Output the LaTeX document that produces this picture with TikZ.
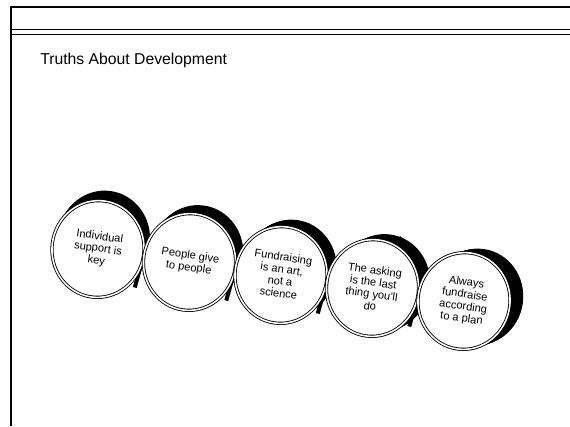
\documentclass[tikz,border=0pt]{standalone}
\usepackage{fontspec}
\setmainfont{Liberation Sans}
\usetikzlibrary{shapes.geometric}
\usetikzlibrary{calc}

\begin{document}
\begin{tikzpicture}[x=0.025cm, y=-0.025cm]
        % ================= styles =================
        \tikzset{
            face/.style={ellipse, draw=black, line width=0.6pt, double=white, double distance=1.1pt,
                fill=white, minimum width=2.3cm, minimum height=2.42cm, inner sep=0pt,
                rotate=-8, align=center, font=\fontsize{7.9}{8.6}\selectfont},
            rim/.style={ellipse, fill=black, minimum width=2.3cm, minimum height=2.42cm, rotate=-8},
            band/.style={line width=0.24cm, black},
            frame/.style={line width=1.5pt}
        }
        \useasboundingbox (0,0) rectangle (570,426);

        % ================= frame and title =================
        \draw[frame] (11,426) -- (11,7) -- (570,7);
        \draw[line width=0.6pt] (11,29.5) -- (570,29.5);
        \draw[line width=1pt] (11,34.5) -- (570,34.5);
        \node[anchor=base west, font=\fontsize{11.2}{14}\selectfont, inner sep=0pt] (title) at (40,65) {Truths About Development};

        % ================= disc centres =================
        \foreach \i in {1,...,5}
            \coordinate (c\i) at ({98+91.5*(\i-1)}, {249+13*(\i-1)});

        % bands between the discs
        \foreach \i in {1,...,4} {
            \pgfmathtruncatemacro{\j}{\i+1}
            \coordinate (m\i) at ($(c\i)!0.5!(c\j)$);
            \draw[band] ($(c\i)+(24,-50)$) -- (m\i);
            \draw[band, line width=0.1cm] (m\i) -- ++(-9,32);
        }

        % rims (depth of each disc, turning with the view)
        \foreach \i in {1,...,5} {
            \pgfmathsetmacro{\dx}{6+1.8*(\i-1)}
            \pgfmathsetmacro{\dy}{-10+1.5*(\i-1)}
            \foreach \k in {0,...,10}
                \node[rim] at ($(c\i)+(\k*\dx/10,\k*\dy/10)$) {};
        }

        % faces
        \foreach \i/\txt in {1/{Individual\\support is\\key},
                             2/{People give\\to people},
                             3/{Fundraising\\is an art,\\not a\\science},
                             4/{The asking\\is the last\\thing you'll\\do},
                             5/{Always\\fundraise\\according\\to a plan}}
            \node[face] (f\i) at (c\i) {\txt};

    \end{tikzpicture}
\end{document}
